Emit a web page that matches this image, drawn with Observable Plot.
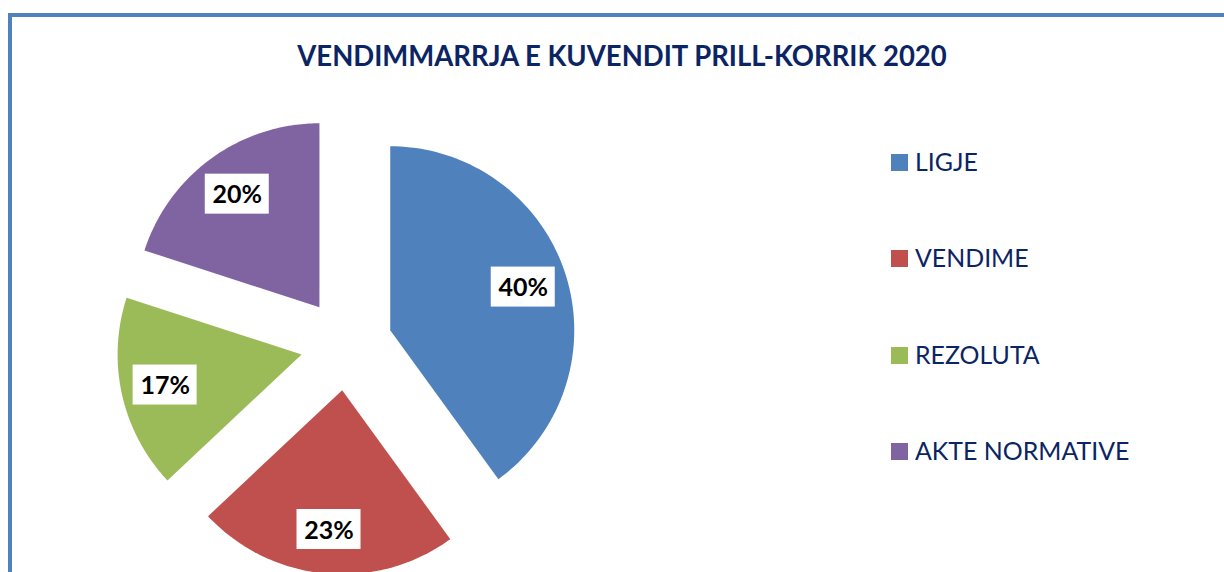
<!DOCTYPE html>
<html><head><meta charset="utf-8">
<script src="https://cdn.jsdelivr.net/npm/d3@7"></script>
<script src="https://cdn.jsdelivr.net/npm/@observablehq/plot@0.6"></script>
<style>
html,body{margin:0;padding:0;background:#fff;overflow:hidden;width:1224px;height:572px;position:relative;}
#frame{position:absolute;left:8px;top:13px;width:1300px;height:700px;border:4px solid #4F81BD;box-sizing:border-box;z-index:2;pointer-events:none;}
#title{position:absolute;top:40px;left:622px;font:bold 29px Lato;line-height:29px;color:#0B2463;white-space:nowrap;transform-origin:center;transform:translateX(-50%);}
#chart{position:absolute;left:0;top:0;z-index:1;}
.leg{position:absolute;left:891px;height:25px;z-index:3;}
.leg .sw{position:absolute;left:0;width:17px;height:17px;}
.leg .lb{position:absolute;left:24px;font:25px Lato;line-height:25px;color:#0B2463;white-space:nowrap;transform-origin:left center;}
</style>
</head><body>
<div id="frame"></div>
<div id="title">VENDIMMARRJA E KUVENDIT PRILL-KORRIK 2020</div>
<div id="chart"></div>
<div id="legend"></div>
<script>
const categories = ["LIGJE", "VENDIME", "REZOLUTA", "AKTE NORMATIVE"];
const shares = [40, 23, 17, 20];
const colors = ["#4F81BD", "#C0504D", "#9BBB59", "#8064A2"];
const labels = ["40%", "23%", "17%", "20%"];

// layout (pixels)
const W = 820, H = 572, cx = 346, cy = 344, R = 184;
const explode = 0.25, labelPos = 0.76;

const arcs = d3.pie().sort(null).value(d => d)(shares);
const poly = [];
const lab = [];
arcs.forEach((a, i) => {
  const m = (a.startAngle + a.endAngle) / 2;
  const ox = explode * Math.sin(m), oy = explode * Math.cos(m);
  const n = 90;
  poly.push({cat: categories[i], x: ox, y: oy});
  for (let k = 0; k <= n; k++) {
    const t = a.startAngle + (a.endAngle - a.startAngle) * k / n;
    poly.push({cat: categories[i], x: ox + Math.sin(t), y: oy + Math.cos(t)});
  }
  lab.push({label: labels[i], x: ox + labelPos * Math.sin(m), y: oy + labelPos * Math.cos(m)});
});
const bw = 32 / R, bh = 20 / R;

const plot = Plot.plot({
  width: W, height: H, margin: 0,
  style: {background: "none", overflow: "visible"},
  x: {domain: [-cx / R, (W - cx) / R], axis: null},
  y: {domain: [-(H - cy) / R, cy / R], axis: null},
  color: {type: "ordinal", domain: categories, range: colors},
  marks: [
    Plot.line(poly, {x: "x", y: "y", z: "cat", fill: "cat", stroke: "none", curve: "linear-closed"}),
    Plot.rect(lab, {x1: d => d.x - bw, x2: d => d.x + bw, y1: d => d.y - bh, y2: d => d.y + bh, fill: "white"}),
    Plot.text(lab, {x: "x", y: "y", text: "label", fontSize: 25, fontWeight: "bold", fontFamily: "Lato", fill: "black", dy: 1})
  ]
});
document.getElementById("chart").appendChild(plot);

const legend = document.getElementById("legend");
categories.forEach((c, i) => {
  const row = document.createElement("div");
  row.className = "leg";
  row.style.top = (149 + i * 96.3) + "px";
  row.innerHTML = `<div class="sw" style="top:5px;background:${colors[i]}"></div><div class="lb">${c}</div>`;
  legend.appendChild(row);
});

function fit() {
  const t = document.getElementById("title");
  const w = t.offsetWidth;
  t.style.transform = `translateX(-50%) scaleX(${649 / w})`;
  const lbs = document.querySelectorAll(".leg .lb");
  const k = 214 / lbs[3].offsetWidth;
  lbs.forEach(e => e.style.transform = `scaleX(${k})`);
}
fit();
if (document.fonts && document.fonts.ready) document.fonts.ready.then(fit);
</script>
</body></html>
